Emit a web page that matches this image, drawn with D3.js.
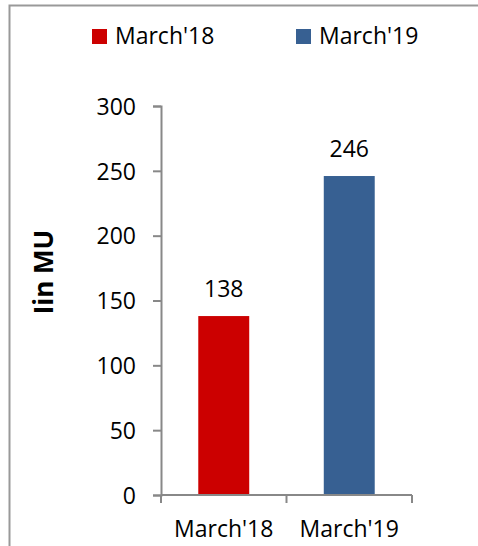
<!DOCTYPE html>
<html>
<head>
<meta charset="utf-8">
<script src="https://cdn.jsdelivr.net/npm/d3@7"></script>
<style>
  body { margin: 0; background: #fff; }
  text { font-family: "Open Sans", sans-serif; fill: #000; }
</style>
</head>
<body>
<div id="chart"></div>
<script>
// chart data
const categories = ["March'18", "March'19"];
const values = [138, 246];
const colors = ["#cc0000", "#376092"];
const yTicks = [0, 50, 100, 150, 200, 250, 300];
const yTitle = "Iin MU";

const width = 478, height = 546;
const margin = { top: 106, right: 66, bottom: 51, left: 161 };

const svg = d3.select("#chart").append("svg")
    .attr("width", width)
    .attr("height", height);

// outer frame (right and bottom edges fall outside the picture)
svg.append("rect")
    .attr("x", 9.5)
    .attr("y", 5.5)
    .attr("width", 500)
    .attr("height", 600)
    .attr("fill", "none")
    .attr("stroke", "#999")
    .attr("stroke-width", 2);

const x = d3.scaleBand()
    .domain(categories)
    .range([margin.left, width - margin.right])
    .paddingInner(0.594)
    .paddingOuter(0.297);

const y = d3.scaleLinear()
    .domain([0, 300])
    .range([height - margin.bottom, margin.top]);

// bars
svg.selectAll("rect.bar")
    .data(values)
    .enter().append("rect")
    .attr("class", "bar")
    .attr("x", (d, i) => x(categories[i]))
    .attr("y", d => y(d))
    .attr("width", x.bandwidth())
    .attr("height", d => y(0) - y(d))
    .attr("fill", (d, i) => colors[i]);

// value labels
svg.selectAll("text.val")
    .data(values)
    .enter().append("text")
    .attr("class", "val")
    .attr("x", (d, i) => x(categories[i]) + x.bandwidth() / 2)
    .attr("y", d => y(d) - 19)
    .attr("text-anchor", "middle")
    .attr("font-size", 23)
    .text(d => d);

// y axis
const yAxis = svg.append("g")
    .attr("transform", "translate(" + margin.left + ",0)")
    .call(d3.axisLeft(y).tickValues(yTicks).tickSize(8).tickPadding(17));
yAxis.selectAll("text").attr("font-size", 23).attr("dy", "0.36em");

// x axis: ticks at band edges
const xAxis = svg.append("g")
    .attr("transform", "translate(0," + y(0) + ")");
const edges = [x.range()[0], x(categories[1]) - x.step() * x.paddingInner() / 2, x.range()[1]];
xAxis.append("line")
    .attr("x1", x.range()[0]).attr("x2", x.range()[1])
    .attr("stroke", "#888").attr("stroke-width", 2);
xAxis.selectAll("line.tk")
    .data(edges)
    .enter().append("line")
    .attr("class", "tk")
    .attr("x1", d => d).attr("x2", d => d)
    .attr("y1", 0).attr("y2", 8)
    .attr("stroke", "#888").attr("stroke-width", 2);
xAxis.selectAll("text")
    .data(categories)
    .enter().append("text")
    .attr("x", d => x(d) + x.bandwidth() / 2)
    .attr("y", 42)
    .attr("text-anchor", "middle")
    .attr("font-size", 23)
    .text(d => d);

yAxis.select(".domain").attr("stroke", "#888").attr("stroke-width", 2);
yAxis.selectAll(".tick line").attr("stroke", "#888").attr("stroke-width", 2);

// y title
svg.append("text")
    .attr("transform", "translate(53,272) rotate(-90)")
    .attr("text-anchor", "middle")
    .attr("font-size", 26)
    .attr("font-weight", "bold")
    .text(yTitle);

// legend
const legendX = [92, 296];
const legend = svg.selectAll("g.legend")
    .data(categories)
    .enter().append("g")
    .attr("class", "legend")
    .attr("transform", (d, i) => "translate(" + legendX[i] + ",29)");
legend.append("rect")
    .attr("width", 15)
    .attr("height", 15)
    .attr("fill", (d, i) => colors[i]);
legend.append("text")
    .attr("x", 23)
    .attr("y", 15)
    .attr("font-size", 23)
    .text(d => d);
</script>
</body>
</html>
